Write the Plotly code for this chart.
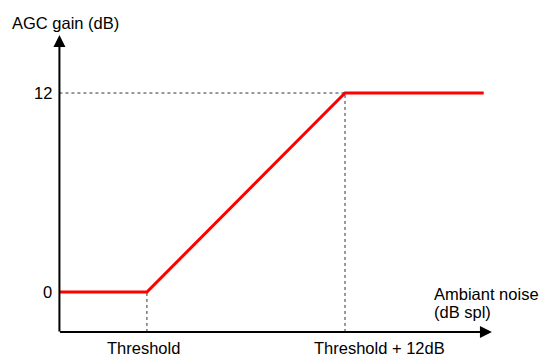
import plotly.graph_objects as go

# Data (dB)
noise_db = [34.7, 40, 52, 60.4]      # ambient noise (x)
gain_db = [0, 0, 12, 12]             # AGC gain (y)
threshold = 40
threshold_hi = 52
gain_ticks = [0, 12]
gain_tick_labels = ["0", "12"]
x_labels = ["Threshold", "Threshold + 12dB"]

x_origin = 34.7
y_origin = -2.41
x_arrow_end = 60.9
y_arrow_end = 15.5

FONT = "Liberation Sans, Arial, sans-serif"
TXT = dict(size=16.5, color="black", family=FONT)

fig = go.Figure()
fig.add_trace(go.Scatter(x=noise_db, y=gain_db, mode="lines",
                         line=dict(color="#ff0000", width=3), hoverinfo="skip"))

shapes = [
    dict(type="line", xref="x", yref="y", x0=x_origin, x1=threshold_hi, y0=12, y1=12,
         line=dict(color="#333333", width=1, dash="dot")),
    dict(type="line", xref="x", yref="y", x0=threshold, x1=threshold, y0=y_origin, y1=0,
         line=dict(color="#333333", width=1, dash="dot")),
    dict(type="line", xref="x", yref="y", x0=threshold_hi, x1=threshold_hi, y0=y_origin, y1=12,
         line=dict(color="#333333", width=1, dash="dot")),
]

annotations = [
    # axes with arrows
    dict(x=x_arrow_end, y=y_origin, ax=x_origin - 0.06, ay=y_origin, xref="x", yref="y",
         axref="x", ayref="y", text="", showarrow=True, arrowhead=2, arrowsize=1.2,
         arrowwidth=2, arrowcolor="black", standoff=0, startstandoff=0),
    dict(x=x_origin, y=y_arrow_end, ax=x_origin, ay=y_origin - 0.06, xref="x", yref="y",
         axref="x", ayref="y", text="", showarrow=True, arrowhead=2, arrowsize=1.2,
         arrowwidth=2, arrowcolor="black", standoff=0, startstandoff=0),
    dict(x=35.06, y=16.2, xref="x", yref="y", text="AGC gain (dB)", showarrow=False,
         xanchor="center", yanchor="middle", font=TXT),
    dict(x=threshold - 0.2, y=y_origin - 0.95, xref="x", yref="y", text=x_labels[0], showarrow=False,
         xanchor="center", yanchor="middle", font=TXT),
    dict(x=threshold_hi - 2.0, y=y_origin - 0.95, xref="x", yref="y", text=x_labels[1], showarrow=False,
         xanchor="left", yanchor="middle", font=TXT),
    dict(x=57.25, y=-0.15, xref="x", yref="y", text="Ambiant noise", showarrow=False,
         xanchor="left", yanchor="middle", font=TXT),
    dict(x=57.25, y=-1.19, xref="x", yref="y", text="(dB spl)", showarrow=False,
         xanchor="left", yanchor="middle", font=TXT),
]
for v, lab in zip(gain_ticks, gain_tick_labels):
    annotations.append(dict(x=x_origin - 0.3, y=v, xref="x", yref="y", text=lab, showarrow=False,
                            xanchor="right", yanchor="middle", font=TXT))

fig.update_layout(
    width=539, height=356,
    margin=dict(l=0, r=0, t=0, b=0),
    paper_bgcolor="white", plot_bgcolor="white",
    showlegend=False,
    xaxis=dict(range=[31.1, 63.75], visible=False, fixedrange=True),
    yaxis=dict(range=[-3.86, 17.61], visible=False, fixedrange=True),
    shapes=shapes, annotations=annotations,
)

fig.write_html("out.html", config={"displayModeBar": False},
               post_script="document.body.style.margin='0';document.body.style.overflow='hidden';")
